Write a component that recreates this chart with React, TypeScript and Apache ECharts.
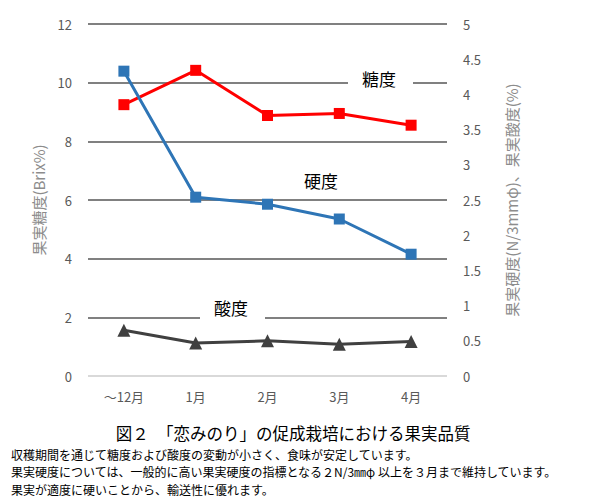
import React, { useEffect, useRef } from "react";
import * as echarts from "echarts";

const categories = ["～12月", "1月", "2月", "3月", "4月"];
const sugar = [9.25, 10.42, 8.88, 8.95, 8.55];
const hardness = [4.33, 2.54, 2.44, 2.23, 1.73];
const acidity = [0.65, 0.47, 0.5, 0.45, 0.49];

const leftTicks = { min: 0, max: 12, interval: 2 };
const rightTicks = { min: 0, max: 5, interval: 0.5 };

const title = "図２　「恋みのり」の促成栽培における果実品質";
const notes = [
  "収穫期間を通じて糖度および酸度の変動が小さく、食味が安定しています。",
  "果実硬度については、一般的に高い果実硬度の指標となる２N/3㎜φ 以上を３月まで維持しています。",
  "果実が適度に硬いことから、輸送性に優れます。",
];

const FONT = '"Noto Sans CJK JP", "Noto Sans", sans-serif';

export default function App() {
  const ref = useRef<HTMLDivElement>(null);
  useEffect(() => {
    if (!ref.current) return;
    const chart = echarts.init(ref.current, undefined, { renderer: "svg" });
    const gridColor = "#808080";
    chart.setOption({
      animation: false,
      backgroundColor: "#ffffff",
      textStyle: { fontFamily: FONT },
      grid: { left: 88, right: 153, top: 24, bottom: 124 },
      xAxis: {
        type: "category",
        data: categories,
        axisLine: { show: false },
        axisTick: { show: false },
        axisLabel: { color: "#595959", fontSize: 13, margin: 14, fontFamily: FONT },
      },
      yAxis: [
        {
          type: "value",
          ...leftTicks,
          name: "果実糖度(Brix%)",
          nameLocation: "middle",
          nameRotate: 90,
          nameGap: 42,
          nameTextStyle: { color: "#8c8c8c", fontSize: 15, fontFamily: FONT },
          axisLine: { show: false },
          axisTick: { show: false },
          axisLabel: { color: "#595959", fontSize: 13, margin: 16, fontFamily: FONT },
          splitLine: {
            show: true,
            lineStyle: {
              color: ["#d9d9d9", gridColor, gridColor, gridColor, gridColor, gridColor, gridColor],
              width: 2,
            },
          },
        },
        {
          type: "value",
          ...rightTicks,
          position: "right",
          name: "果実硬度(N/3mmφ)、果実酸度(%)",
          nameLocation: "middle",
          nameRotate: 90,
          nameGap: 57,
          nameTextStyle: { color: "#8c8c8c", fontSize: 15, fontFamily: FONT },
          axisLine: { show: false },
          axisTick: { show: false },
          axisLabel: { color: "#595959", fontSize: 13, margin: 16, fontFamily: FONT },
          splitLine: { show: false },
        },
      ],
      series: [
        {
          name: "糖度",
          type: "line",
          yAxisIndex: 0,
          data: sugar,
          symbol: "rect",
          symbolSize: 11,
          lineStyle: { color: "#ff0000", width: 3 },
          itemStyle: { color: "#ff0000" },
          z: 3,
        },
        {
          name: "硬度",
          type: "line",
          yAxisIndex: 1,
          data: hardness,
          symbol: "rect",
          symbolSize: 11,
          lineStyle: { color: "#2e75b6", width: 3 },
          itemStyle: { color: "#2e75b6" },
          z: 3,
        },
        {
          name: "酸度",
          type: "line",
          yAxisIndex: 1,
          data: acidity,
          symbol: "triangle",
          symbolSize: 13,
          lineStyle: { color: "#404040", width: 3 },
          itemStyle: { color: "#404040" },
          z: 3,
        },
      ],
      graphic: [
        { type: "rect", z: 1, shape: { x: 348, y: 68, width: 65, height: 26 }, style: { fill: "#ffffff" } },
        { type: "rect", z: 1, shape: { x: 200, y: 296, width: 65, height: 30 }, style: { fill: "#ffffff" } },
        {
          type: "text", z: 2, x: 379, y: 78,
          style: { text: "糖度", fill: "#000", font: `17px ${FONT}`, align: "center", verticalAlign: "middle" },
        },
        {
          type: "text", z: 2, x: 321, y: 180,
          style: { text: "硬度", fill: "#000", font: `17px ${FONT}`, align: "center", verticalAlign: "middle" },
        },
        {
          type: "text", z: 2, x: 231, y: 307,
          style: { text: "酸度", fill: "#000", font: `17px ${FONT}`, align: "center", verticalAlign: "middle" },
        },
        {
          type: "text", x: 293, y: 433,
          style: { text: title, fill: "#000", font: `16.5px ${FONT}`, align: "center", verticalAlign: "middle" },
        },
        ...notes.map((t, i) => ({
          type: "text", x: 11, y: 454 + i * 17.6,
          style: { text: t, fill: "#000", font: `12px ${FONT}`, align: "left", verticalAlign: "middle" },
        })),
      ],
    });
    return () => chart.dispose();
  }, []);
  return (
    <div
      ref={ref}
      style={{ position: "fixed", left: 0, top: 0, width: 600, height: 500, background: "#fff" }}
    />
  );
}
